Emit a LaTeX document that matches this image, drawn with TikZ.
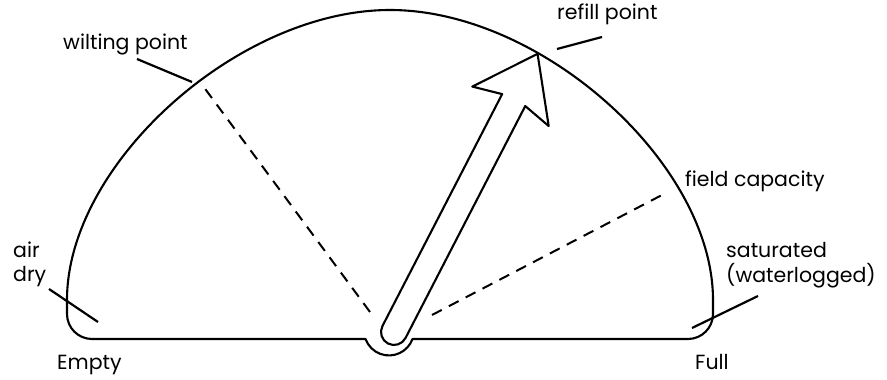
\documentclass[tikz,border=0pt]{standalone}
\usepackage{fontspec}
\setmainfont{Poppins}
\usepackage{tikz}
\usetikzlibrary{calc}

\begin{document}
\begin{tikzpicture}[x=1pt, y=1pt,
    gauge/.style={line width=2.1pt, line join=round},
    zone/.style={line width=2pt, dash pattern=on 11pt off 8pt},
    tick/.style={line width=2.2pt},
    lbl/.style={anchor=base west, inner sep=0pt, font=\fontsize{20.5}{24}\selectfont}]
  \useasboundingbox (0,0) rectangle (887,380);

  % outline of the gauge
  \draw[gauge] (67,80) .. controls (67,216) and (238,370) .. (390,370)
    .. controls (542,370) and (713,216) .. (713,80)
    -- (713,66) arc[start angle=0, end angle=-90, radius=25]
    -- (412.5,41) arc[start angle=340, end angle=200, radius=25]
    -- (92,41) arc[start angle=270, end angle=180, radius=25] -- cycle;

  \coordinate (pivot) at (394,48);
  \coordinate (wpin) at (370,68);
  \coordinate (wpout) at (203,294);
  \coordinate (fcin) at (432,65);
  \coordinate (fcout) at (662,185);

  \draw[zone] (wpin) -- (wpout);
  \draw[zone] (fcin) -- (fcout);

  % needle
  \begin{scope}[shift={(pivot)}, rotate=62.7]
    \draw[gauge, fill=white] (261,13) -- (0,13)
      arc[start angle=90, end angle=270, radius=13]
      -- (261,-13) -- (254,-43) -- (313,0) -- (254,43) -- cycle;
  \end{scope}

  % labels
  \node[lbl] (wilting) at (63,330) {wilting point};
  \node[lbl] (refill) at (557,360) {refill point};
  \node[lbl] (field) at (685,193) {field capacity};
  \node[lbl] (air) at (13,122) {air};
  \node[lbl] (dry) at (13,98) {dry};
  \node[lbl] (saturated) at (726,122) {saturated};
  \node[lbl] (waterlogged) at (726,97) {(waterlogged)};
  \node[lbl] (empty) at (57,10) {Empty};
  \node[lbl] (full) at (695,10) {Full};

  \coordinate (wilta) at (137,321);
  \coordinate (wiltb) at (192,298);
  \coordinate (refilla) at (602,343);
  \coordinate (refillb) at (557,331);
  \coordinate (drya) at (49,91);
  \coordinate (dryb) at (98,58);
  \coordinate (sata) at (758,84);
  \coordinate (satb) at (692,52);

  \draw[tick] (wilta) -- (wiltb);
  \draw[tick] (refilla) -- (refillb);
  \draw[tick] (drya) -- (dryb);
  \draw[tick] (sata) -- (satb);
\end{tikzpicture}
\end{document}
